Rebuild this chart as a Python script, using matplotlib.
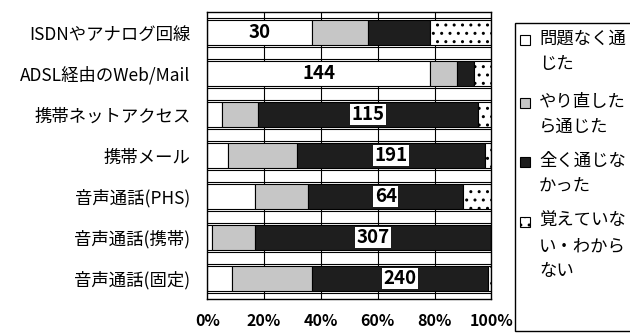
import matplotlib.pyplot as plt
import matplotlib.patches as mpatches
import numpy as np

plt.rcParams['font.family'] = ['Noto Sans CJK JP', 'DejaVu Sans']
plt.rcParams['hatch.linewidth'] = 1.0

categories = ['ISDNやアナログ回線', 'ADSL経由のWeb/Mail', '携帯ネットアクセス', '携帯メール',
              '音声通話(PHS)', '音声通話(携帯)', '音声通話(固定)']
counts = [30, 144, 115, 191, 64, 307, 240]

# percent of answers per category
ok_first = [36.7, 78.3, 5.2, 7.3, 16.7, 1.5, 8.7]
ok_retry = [20.0, 9.6, 12.7, 24.3, 18.8, 15.2, 28.2]
failed = [21.6, 5.9, 77.4, 66.1, 54.6, 83.3, 62.0]
unknown = [21.7, 6.2, 4.7, 2.3, 9.9, 0.0, 1.1]

series_labels = ['問題なく通\nじた', 'やり直した\nら通じた', '全く通じな\nかった', '覚えていな\nい・わから\nない']
xticks = [0, 20, 40, 60, 80, 100]

fig = plt.figure(figsize=(6.3, 3.33), dpi=100)
ax = fig.add_axes([0.329, 0.102, 0.451, 0.862])

y = np.arange(len(categories))
h = 0.63

styles = [dict(color='white', hatch=None),
          dict(color='#c6c6c6', hatch=None),
          dict(color='#1e1e1e', hatch=None),
          dict(color='white', hatch='..')]

# gridlines behind the bars
for xv in xticks[1:-1]:
    ax.axvline(xv, color='black', lw=0.8, zorder=0)
for yc in y:
    ax.hlines([yc - h / 2 - 0.05, yc + h / 2 + 0.05], 0, 100, color='black', lw=0.8, zorder=0)

left = np.zeros(len(categories))
segments = []
for vals, st in zip([ok_first, ok_retry, failed, unknown], styles):
    vals = np.array(vals)
    ax.barh(y, vals, height=h, left=left, color=st['color'], hatch=st['hatch'],
            edgecolor='black', linewidth=0.8, zorder=2)
    segments.append((left.copy(), vals))
    left += vals

# sample size printed in the widest segment of each bar
for i, n in enumerate(counts):
    widths = [seg[1][i] for seg in segments]
    k = int(np.argmax(widths))
    xc = segments[k][0][i] + widths[k] / 2
    box = dict(facecolor='white', edgecolor='none', pad=1.0) if k == 2 else None
    ax.text(xc, y[i], str(n), ha='center', va='center', fontsize=13.5,
            fontweight='bold', zorder=4, bbox=box)

ax.set_xlim(0, 100)
ax.set_ylim(len(categories) - 0.5, -0.5)
ax.set_yticks(y)
ax.set_yticklabels(categories, fontsize=12.5)
ax.set_xticks(xticks)
ax.set_xticklabels([f'{t}%' for t in xticks], fontsize=11.5, fontweight='bold')
ax.tick_params(length=0, pad=10)
ax.tick_params(axis='y', pad=12)
for sp in ax.spines.values():
    sp.set_linewidth(1.0)

# legend box, with each key square set against the first line of its label
W, H = 630, 333
fig.patches.append(mpatches.Rectangle((515 / W, 1 - 331 / H), 120 / W, 308 / H,
                                      transform=fig.transFigure, facecolor='white',
                                      edgecolor='black', linewidth=1.0))
first_line_y = [40, 103, 162, 222]
for st, lab, ly in zip(styles, series_labels, first_line_y):
    fig.patches.append(mpatches.Rectangle((520 / W, 1 - (ly + 5) / H), 10 / W, 10 / H,
                                          transform=fig.transFigure, facecolor=st['color'],
                                          hatch=st['hatch'], edgecolor='black', linewidth=0.8))
    fig.text(539 / W, 1 - (ly - 10) / H, lab, ha='left', va='top', fontsize=12.5,
             linespacing=1.5)

fig.savefig('out.png', dpi=100)
